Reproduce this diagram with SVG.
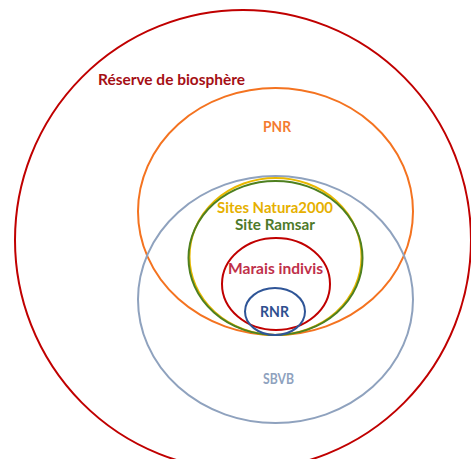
<svg xmlns="http://www.w3.org/2000/svg" width="471" height="459" viewBox="0 0 471 459">
<style>
  .c { fill: none; stroke-width: 2; }
  text { font-family: Lato, "Liberation Sans", sans-serif; font-weight: bold; text-anchor: middle; }
</style>
<rect width="471" height="459" fill="#ffffff"/>
<g id="reserve">
  <ellipse class="c" cx="243" cy="240" rx="228" ry="230" stroke="#C00000"/>
  <text x="171.5" y="85" font-size="15" fill="#A50F15" textLength="147" lengthAdjust="spacingAndGlyphs">Réserve de biosphère</text>
</g>
<g id="pnr">
  <ellipse class="c" cx="275.5" cy="211.5" rx="137.5" ry="123.5" stroke="#F47320"/>
  <text x="277" y="132" font-size="15" fill="#F47B30" textLength="28" lengthAdjust="spacingAndGlyphs">PNR</text>
</g>
<g id="sbvb">
  <ellipse class="c" cx="275.5" cy="299.5" rx="137.5" ry="123.5" stroke="#8FA2BE"/>
  <text x="278.5" y="384" font-size="15" fill="#8FA2BE" textLength="31" lengthAdjust="spacingAndGlyphs">SBVB</text>
</g>
<g id="natura">
  <ellipse class="c" cx="275.5" cy="256.5" rx="86" ry="78.5" stroke="#E8B800"/>
  <text x="275" y="213" font-size="15" fill="#E6B000" textLength="116" lengthAdjust="spacingAndGlyphs">Sites Natura2000</text>
</g>
<g id="ramsar">
  <ellipse class="c" cx="275.5" cy="258" rx="87" ry="77" stroke="#4E8020"/>
  <text x="275" y="230" font-size="15" fill="#4E7A2A" textLength="80" lengthAdjust="spacingAndGlyphs">Site Ramsar</text>
</g>
<g id="marais">
  <ellipse class="c" cx="276" cy="284" rx="54" ry="46" stroke="#C00000"/>
  <text x="275.5" y="274" font-size="16" fill="#C0304A" textLength="95" lengthAdjust="spacingAndGlyphs">Marais indivis</text>
</g>
<g id="rnr">
  <ellipse class="c" cx="275" cy="311.5" rx="30" ry="23.5" stroke="#2F5597"/>
  <text x="274.5" y="317" font-size="15.5" fill="#2F4F8F" textLength="29" lengthAdjust="spacingAndGlyphs">RNR</text>
</g>
<g id="connectors"></g>
</svg>
